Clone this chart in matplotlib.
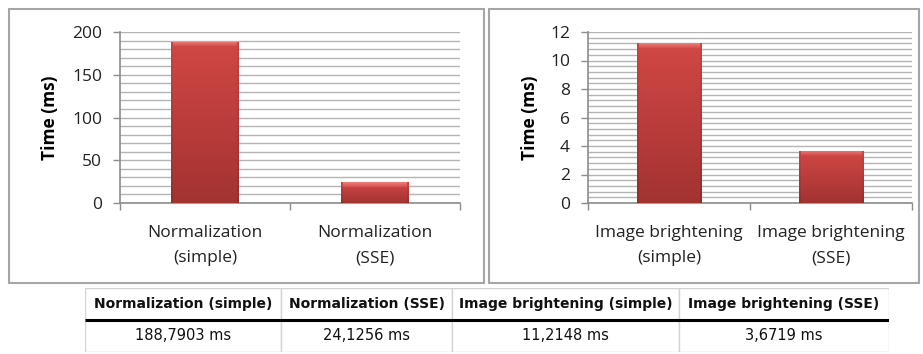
import numpy as np
import matplotlib
matplotlib.use('Agg')
import matplotlib.pyplot as plt
from matplotlib.patches import Rectangle
from matplotlib.colors import LinearSegmentedColormap
from matplotlib.ticker import MultipleLocator

# timings (ms)
norm_labels = ['Normalization\n(simple)', 'Normalization\n(SSE)']
norm_times = [188.7903, 24.1256]
bright_labels = ['Image brightening\n(simple)', 'Image brightening\n(SSE)']
bright_times = [11.2148, 3.6719]

table_headers = ['Normalization (simple)', 'Normalization (SSE)',
                 'Image brightening (simple)', 'Image brightening (SSE)']
table_times = norm_times + bright_times

W, H = 923, 354
fig = plt.figure(figsize=(W / 100, H / 100), dpi=100)

bar_cmap = LinearSegmentedColormap.from_list(
    'bar', [(0.0, '#8e2b29'), (0.2, '#a23331'), (0.55, '#bb3d3b'),
            (0.85, '#cd4643'), (0.9, '#d24a47'), (1.0, '#ea7a77')])
axis_grey = '#8c8c8c'
grid_grey = '#b4b4b4'
tick_font = ['Open Sans', 'DejaVu Sans']


def px_rect(x0, y0, x1, y1):
    # pixel box (top-left origin) -> figure fraction rect
    return [x0 / W, 1 - y1 / H, (x1 - x0) / W, (y1 - y0) / H]


def bar_shade(w_px, h_px, bevel=5):
    rows, cols = max(int(round(h_px)), 2), max(int(round(w_px)), 2)
    yy = np.linspace(0, 1, rows)[:, None]
    shade = np.repeat(0.2 + 0.7 * yy, cols, axis=1)
    # light bevel along the top edge
    k = min(bevel, rows - 1)
    shade[-k:, :] = np.linspace(0.92, 1.0, k)[:, None]
    # darker sides
    shade[:, :2] -= 0.15
    shade[:, -2:] -= 0.15
    return np.clip(shade, 0, 1)


def draw_panel(ax, labels, values, ymax, major, label_x):
    xs = np.arange(len(values))
    bars = ax.bar(xs, values, width=0.4, color='#c0403e', edgecolor='none', zorder=2)

    ax.set_xlim(-0.5, len(values) - 0.5)
    ax.set_ylim(0, ymax)
    bbox = ax.get_position()
    ax_w, ax_h = bbox.width * W, bbox.height * H

    # shaded fill clipped to each bar
    for b in bars:
        x0, w, h = b.get_x(), b.get_width(), b.get_height()
        shade = bar_shade(w / len(values) * ax_w, h / ymax * ax_h)
        im = ax.imshow(shade, extent=[x0, x0 + w, 0, h], origin='lower',
                       aspect='auto', cmap=bar_cmap, vmin=0, vmax=1,
                       interpolation='bilinear', zorder=3)
        im.set_clip_path(b)

    ax.set_xlim(-0.5, len(values) - 0.5)
    ax.set_ylim(0, ymax)

    ax.yaxis.set_major_locator(MultipleLocator(major))
    ax.yaxis.set_minor_locator(MultipleLocator(major / 5))
    ax.grid(which='both', axis='y', color=grid_grey, lw=1.0)
    ax.set_axisbelow(True)

    ax.set_xticks(np.arange(-0.5, len(values), 1.0))
    ax.set_xticklabels([])
    ax.set_xticks(xs, minor=True)
    ax.set_xticklabels(labels, minor=True, fontsize=12.5, family=tick_font,
                       color='#222222', linespacing=1.75)
    ax.tick_params(axis='x', which='major', direction='out', length=5,
                   color=axis_grey, width=1)
    ax.tick_params(axis='x', which='minor', length=0, pad=16)
    ax.tick_params(axis='y', which='major', direction='out', length=5,
                   color=axis_grey, width=1, pad=8, labelsize=12.5)
    ax.tick_params(axis='y', which='minor', length=0)
    for t in ax.get_yticklabels():
        t.set_family(tick_font)
        t.set_color('#222222')

    for s in ('top', 'right'):
        ax.spines[s].set_visible(False)
    for s in ('left', 'bottom'):
        ax.spines[s].set_color(axis_grey)
        ax.spines[s].set_linewidth(1.2)

    ax.set_ylabel('Time (ms)', fontsize=12.5, fontweight='bold', family=tick_font)
    ax.yaxis.set_label_coords(label_x, 0.5)


# outer frames around each chart
for x0, x1 in [(9, 484), (489, 919)]:
    fig.patches.append(Rectangle((x0 / W, 1 - 283 / H), (x1 - x0) / W, 274 / H,
                                 transform=fig.transFigure, fill=False,
                                 edgecolor='#a6a6a6', lw=1.5))

ax1 = fig.add_axes(px_rect(120, 32, 460, 203))
draw_panel(ax1, norm_labels, norm_times, 200, 50, -0.18)

ax2 = fig.add_axes(px_rect(588, 32, 912, 203))
draw_panel(ax2, bright_labels, bright_times, 12, 2, -0.151)

# summary table below the charts
col_w = [196, 171, 227, 210]
tx0, ty0, ty1 = 85, 288, 352
tab = fig.add_axes(px_rect(tx0, ty0, tx0 + sum(col_w), ty1))
tab.set_xlim(0, sum(col_w))
tab.set_ylim(ty1 - ty0, 0)
tab.axis('off')

row_h = 32
edges = np.concatenate([[0], np.cumsum(col_w)])
for i, (hdr, val) in enumerate(zip(table_headers, table_times)):
    cx = (edges[i] + edges[i + 1]) / 2
    for r in range(2):
        tab.add_patch(Rectangle((edges[i], r * row_h), col_w[i], row_h,
                                facecolor='white', edgecolor='#d4d4d4', lw=1))
    tab.text(cx, row_h / 2, hdr, ha='center', va='center', fontsize=10,
             fontweight='bold', family=['Liberation Sans Narrow', 'DejaVu Sans'],
             color='#111111')
    tab.text(cx, row_h * 1.5, f'{val:.4f}'.replace('.', ',') + ' ms',
             ha='center', va='center', fontsize=10.5,
             family=['Liberation Sans Narrow', 'DejaVu Sans'], color='#111111')
tab.plot([0, sum(col_w)], [row_h, row_h], color='black', lw=2.2,
         solid_capstyle='butt')

fig.savefig('out.png', dpi=100)
